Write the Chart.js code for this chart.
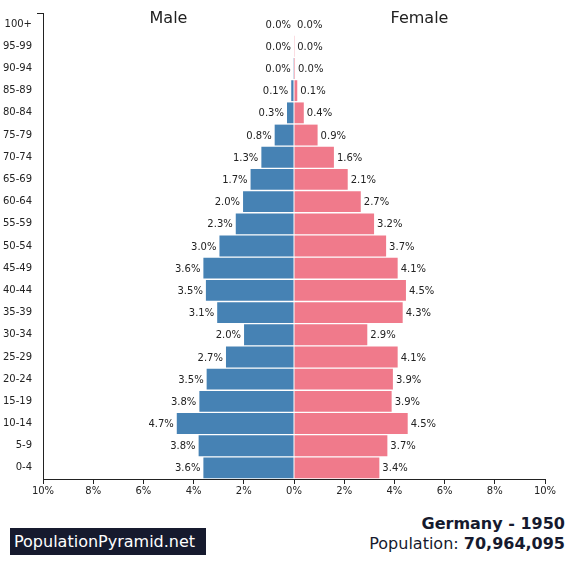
<!DOCTYPE html>
<html lang="en">
  <head>
    <meta charset="UTF-8" />
    <title>Germany - 1950</title>
    <script src="https://cdn.jsdelivr.net/npm/chart.js"></script>
    <style>
      body {
        margin: 0;
        background: #fff;
        font-family: "DejaVu Sans", sans-serif;
        width: 575px;
        height: 581px;
        position: relative;
        overflow: hidden;
      }
      #pyramid {
        position: absolute;
        left: 0;
        top: 1px;
      }
      .brand {
        position: absolute;
        left: 10px;
        top: 528px;
        width: 196px;
        height: 27px;
        background: #161a2e;
        color: #fff;
        font-size: 16px;
        line-height: 27px;
        padding-left: 4px;
        box-sizing: border-box;
      }
      .info {
        position: absolute;
        right: 10px;
        top: 514px;
        text-align: right;
        color: #161a2e;
        line-height: 20px;
      }
      .info .country {
        font-size: 16px;
        font-weight: bold;
      }
      .info .pop {
        font-size: 16px;
      }
    </style>
  </head>
  <body>
    <canvas id="pyramid" width="575" height="500"></canvas>
    <div class="brand">PopulationPyramid.net</div>
    <div class="info">
      <div class="country">Germany - 1950</div>
      <div class="pop">Population: <b>70,964,095</b></div>
    </div>

    <script>
      // age groups, youngest first
      const ageGroups = [
        "0-4", "5-9", "10-14", "15-19", "20-24", "25-29", "30-34",
        "35-39", "40-44", "45-49", "50-54", "55-59", "60-64", "65-69",
        "70-74", "75-79", "80-84", "85-89", "90-94", "95-99", "100+",
      ];

      // share of total population, %
      const malePct = [
        3.61, 3.8, 4.67, 3.77, 3.48, 2.71, 1.99, 3.06, 3.51, 3.61, 2.97,
        2.32, 2.03, 1.73, 1.3, 0.77, 0.28, 0.11, 0.01, 0.0, 0.0,
      ];
      const femalePct = [
        3.4, 3.72, 4.53, 3.89, 3.94, 4.13, 2.92, 4.33, 4.46, 4.13, 3.67,
        3.19, 2.66, 2.14, 1.59, 0.94, 0.39, 0.13, 0.04, 0.01, 0.0,
      ];

      const xTicks = [-10, -8, -6, -4, -2, 0, 2, 4, 6, 8, 10];

      const maleColor = "#4682b4";
      const femaleColor = "#f07a8b";
      const textColor = "#222";

      // value labels next to each bar + the Male / Female headings
      const barLabels = {
        id: "barLabels",
        afterDatasetsDraw(chart) {
          const ctx = chart.ctx;
          const area = chart.chartArea;
          ctx.save();

          // little cap at the top of the age axis
          ctx.strokeStyle = textColor;
          ctx.lineWidth = 1;
          ctx.beginPath();
          ctx.moveTo(area.left - 6, area.top + 0.5);
          ctx.lineTo(area.left, area.top + 0.5);
          ctx.stroke();

          ctx.font = "10px 'DejaVu Sans'";
          ctx.fillStyle = textColor;
          ctx.textBaseline = "middle";
          chart.data.datasets.forEach((ds, di) => {
            const meta = chart.getDatasetMeta(di);
            meta.data.forEach((bar, i) => {
              const v = ds.data[i];
              const txt = Math.abs(v).toFixed(1) + "%";
              if (di === 0) {
                ctx.textAlign = "right";
                ctx.fillText(txt, bar.x - 3, bar.y + 1);
              } else {
                ctx.textAlign = "left";
                ctx.fillText(txt, bar.x + 3, bar.y + 1);
              }
            });
          });

          const xs = chart.scales.x;
          ctx.font = "16px 'DejaVu Sans'";
          ctx.textAlign = "center";
          ctx.fillText("Male", xs.getPixelForValue(-5), 18);
          ctx.fillText("Female", xs.getPixelForValue(5), 18);
          ctx.restore();
        },
      };

      new Chart(document.getElementById("pyramid"), {
        type: "bar",
        data: {
          labels: ageGroups,
          datasets: [
            {
              label: "Male",
              data: malePct.map((v) => -v),
              backgroundColor: maleColor,
              barPercentage: 0.94,
              categoryPercentage: 1,
            },
            {
              label: "Female",
              data: femalePct,
              backgroundColor: femaleColor,
              barPercentage: 0.94,
              categoryPercentage: 1,
            },
          ],
        },
        options: {
          indexAxis: "y",
          responsive: false,
          animation: false,
          layout: { padding: { top: 12, right: 30, left: 0, bottom: 0 } },
          plugins: {
            legend: { display: false },
            tooltip: { enabled: false },
          },
          scales: {
            x: {
              stacked: true,
              min: -10,
              max: 10,
              afterBuildTicks: (scale) => {
                scale.ticks = xTicks.map((v) => ({ value: v }));
              },
              afterFit: (scale) => {
                scale.height = 22;
              },
              grid: {
                drawOnChartArea: false,
                tickLength: 5,
                color: textColor,
              },
              border: { display: true, color: textColor, width: 1 },
              ticks: {
                padding: 1,
                color: textColor,
                font: { family: "DejaVu Sans", size: 10 },
                callback: (v) => Math.abs(v) + "%",
              },
            },
            y: {
              stacked: true,
              reverse: true,
              afterFit: (scale) => {
                scale.width = 43;
              },
              grid: { display: false },
              border: { display: true, color: textColor, width: 1 },
              ticks: {
                padding: 3,
                color: textColor,
                font: { family: "DejaVu Sans", size: 10 },
              },
            },
          },
        },
        plugins: [barLabels],
      });
    </script>
  </body>
</html>
